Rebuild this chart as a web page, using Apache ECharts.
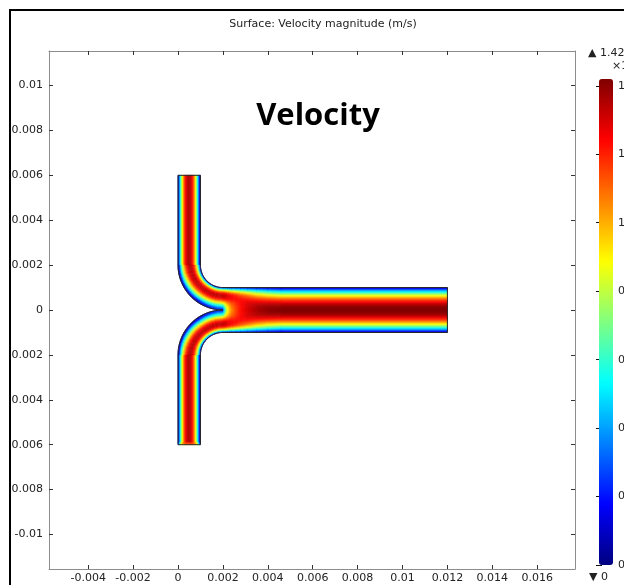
<!DOCTYPE html>
<html>
<head>
<meta charset="utf-8">
<script src="https://cdn.jsdelivr.net/npm/echarts@6/dist/echarts.min.js"></script>
<style>
  html, body { margin: 0; padding: 0; background: #fff; }
  #chart { width: 624px; height: 585px; }
</style>
</head>
<body>
<div id="chart"></div>
<script>
// ---- Axis ticks -----------------------------------------------------------
const xTicks = [-0.004, -0.002, 0, 0.002, 0.004, 0.006, 0.008, 0.01, 0.012, 0.014, 0.016];
const yTicks = [-0.01, -0.008, -0.006, -0.004, -0.002, 0, 0.002, 0.004, 0.006, 0.008, 0.01];
const colorbarTicks = [0, 0.2, 0.4, 0.6, 0.8, 1, 1.2, 1.4];
const velocityRange = [0, 1.42];   // ×10⁻³ m/s

// ---- Velocity magnitude (×10⁻³ m/s) ----------------------------------------
// Straight inlet legs, across the width from x = 0 to x = 0.001
const inletProfile = [0.121, 0.346, 0.548, 0.728, 0.885, 1.02, 1.132, 1.222, 1.29, 1.335, 1.357,
                      1.357, 1.335, 1.29, 1.222, 1.132, 1.02, 0.885, 0.728, 0.548, 0.346, 0.121];

// Entrance of the lower inlet (bottom edge upwards), flatter profiles
const inletEntryStations = [-0.006, -0.00593, -0.00585];
const inletEntryProfiles = [
  [0.36, 0.62, 0.8, 0.9, 0.96, 0.99, 1.01, 1.02, 1.02, 1.02, 1.02,
   1.02, 1.02, 1.02, 1.02, 1.01, 0.99, 0.96, 0.9, 0.8, 0.62, 0.36],
  [0.22, 0.5, 0.72, 0.88, 0.99, 1.07, 1.12, 1.15, 1.17, 1.18, 1.18,
   1.18, 1.18, 1.17, 1.15, 1.12, 1.07, 0.99, 0.88, 0.72, 0.5, 0.22]
];

// Bend, inner wall (r = 0.001) to outer wall (r = 0.002), at each angle (deg)
const bendAngles = [180, 205, 235, 270];
const bendProfiles = [
  [0.14, 0.39, 0.6, 0.79, 0.94, 1.07, 1.17, 1.25, 1.31, 1.34, 1.35,
   1.34, 1.31, 1.26, 1.19, 1.1, 0.99, 0.86, 0.71, 0.54, 0.34, 0.11],
  [0.17, 0.45, 0.69, 0.88, 1.03, 1.15, 1.24, 1.3, 1.33, 1.33, 1.31,
   1.27, 1.21, 1.13, 1.04, 0.94, 0.83, 0.71, 0.58, 0.44, 0.28, 0.09],
  [0.19, 0.5, 0.75, 0.94, 1.09, 1.2, 1.28, 1.32, 1.33, 1.31, 1.27,
   1.21, 1.13, 1.04, 0.94, 0.83, 0.71, 0.59, 0.46, 0.33, 0.2, 0.06]
];

// Merging zone behind the cusp, wall (|y| = 0.001) to centreline, at each x station
const mergeStations = [0.002, 0.00205, 0.0021, 0.00215, 0.0022, 0.0023, 0.0024,
                       0.0026, 0.0028, 0.0031, 0.0035, 0.004, 0.0046];
const mergeProfiles = [
  [0.19, 0.5, 0.75, 0.94, 1.09, 1.2, 1.28, 1.32, 1.33, 1.31, 1.28, 1.22, 1.15, 1.06, 0.96, 0.85, 0.73, 0.62, 0.52, 0.42, 0.33, 0.25],
  [0.19, 0.49, 0.74, 0.93, 1.08, 1.19, 1.27, 1.31, 1.33, 1.31, 1.28, 1.23, 1.16, 1.09, 1.0, 0.91, 0.81, 0.72, 0.64, 0.57, 0.5, 0.45],
  [0.18, 0.48, 0.72, 0.91, 1.06, 1.18, 1.26, 1.3, 1.32, 1.31, 1.28, 1.24, 1.18, 1.11, 1.04, 0.96, 0.88, 0.81, 0.75, 0.7, 0.66, 0.62],
  [0.18, 0.47, 0.7, 0.89, 1.04, 1.16, 1.24, 1.29, 1.31, 1.3, 1.28, 1.24, 1.19, 1.13, 1.07, 1.0, 0.94, 0.89, 0.85, 0.81, 0.78, 0.75],
  [0.17, 0.45, 0.68, 0.86, 1.01, 1.13, 1.22, 1.27, 1.29, 1.29, 1.27, 1.24, 1.2, 1.15, 1.1, 1.05, 1.0, 0.96, 0.93, 0.9, 0.88, 0.86],
  [0.16, 0.43, 0.65, 0.83, 0.98, 1.1, 1.19, 1.24, 1.27, 1.27, 1.26, 1.24, 1.21, 1.18, 1.14, 1.1, 1.07, 1.04, 1.02, 1.0, 0.99, 0.98],
  [0.15, 0.41, 0.62, 0.79, 0.94, 1.06, 1.15, 1.21, 1.24, 1.25, 1.25, 1.24, 1.22, 1.2, 1.17, 1.14, 1.12, 1.11, 1.09, 1.08, 1.07, 1.06],
  [0.14, 0.38, 0.58, 0.74, 0.88, 1.0, 1.09, 1.16, 1.2, 1.22, 1.23, 1.23, 1.23, 1.22, 1.21, 1.2, 1.19, 1.18, 1.17, 1.17, 1.16, 1.16],
  [0.12, 0.35, 0.53, 0.68, 0.82, 0.94, 1.03, 1.1, 1.15, 1.18, 1.2, 1.22, 1.23, 1.24, 1.24, 1.24, 1.24, 1.24, 1.23, 1.23, 1.23, 1.23],
  [0.11, 0.31, 0.47, 0.61, 0.74, 0.86, 0.95, 1.03, 1.09, 1.13, 1.17, 1.2, 1.23, 1.25, 1.27, 1.28, 1.29, 1.3, 1.3, 1.3, 1.3, 1.3],
  [0.09, 0.26, 0.41, 0.53, 0.65, 0.76, 0.85, 0.93, 1.0, 1.06, 1.11, 1.16, 1.2, 1.24, 1.27, 1.3, 1.32, 1.34, 1.35, 1.355, 1.36, 1.36],
  [0.075, 0.22, 0.35, 0.47, 0.58, 0.68, 0.77, 0.85, 0.93, 1.0, 1.065, 1.125, 1.175, 1.22, 1.265, 1.3, 1.33, 1.36, 1.38, 1.39, 1.395, 1.4]
];

// Developed outlet flow, wall (|y| = 0.001) to centreline
const outletHalfProfile = [0.064, 0.187, 0.304, 0.416, 0.521, 0.621, 0.715, 0.803, 0.885, 0.962, 1.032,
                           1.097, 1.155, 1.208, 1.255, 1.296, 1.331, 1.361, 1.384, 1.402, 1.413, 1.419];

// ---- Channel geometry (m) --------------------------------------------------
const GEO = {
  inletX0: 0, inletX1: 0.001, inletTop: 0.006,
  bendCx: 0.002, bendCy: 0.002, rInner: 0.001, rOuter: 0.002,
  outletEnd: 0.012, outletHalf: 0.001
};

// ---- Styling ---------------------------------------------------------------
const FONT = '"DejaVu Sans", Verdana, sans-serif';
const jet = ['#000080', '#0000ff', '#0080ff', '#00ffff', '#80ff80',
             '#ffff00', '#ff8000', '#ff0000', '#800000'];
const jetRgb = jet.map(h => [1, 3, 5].map(i => parseInt(h.substr(i, 2), 16)));

// Colour of a velocity on the jet scale used by the colour bar
function colorFor(v) {
  const t = Math.min(1, Math.max(0, (v - velocityRange[0]) / (velocityRange[1] - velocityRange[0])));
  const p = t * (jet.length - 1);
  const i = Math.min(jet.length - 2, Math.floor(p));
  const f = p - i;
  const c = [0, 1, 2].map(j => Math.round(jetRgb[i][j] + (jetRgb[i + 1][j] - jetRgb[i][j]) * f));
  return 'rgb(' + c.join(',') + ')';
}

// ---- Cells -----------------------------------------------------------------
// [value, valueAtFarEdge, kind, p1..p6, dir]
// kind 0: rectangle x0, x1, y0, y1 (dir 0: shaded along x, 1: along y)
// kind 1: annular sector cx, cy, r0, r1, aStart, aEnd (deg)
const cells = [];
const rect = (v, vn, x0, x1, y0, y1, dir) => cells.push([v, vn, 0, x0, x1, y0, y1, 0, 0, dir]);
const sector = (v, vn, cx, cy, r0, r1, a0, a1) => cells.push([v, vn, 1, cx, cy, r0, r1, a0, a1, 0]);

const nBand = inletProfile.length;
const dx = (GEO.inletX1 - GEO.inletX0) / nBand;
const entryTop = inletEntryStations[inletEntryStations.length - 1];

inletProfile.forEach((v, k) => {
  const x0 = GEO.inletX0 + k * dx, x1 = x0 + dx;
  rect(v, v, x0, x1, GEO.bendCy, GEO.inletTop, 1);    // upper leg
  rect(v, v, x0, x1, -GEO.bendCy, entryTop, 1);       // lower leg
});
inletEntryProfiles.forEach((row, s) => row.forEach((v, k) => {
  const x0 = GEO.inletX0 + k * dx;
  const next = s + 1 < inletEntryProfiles.length ? inletEntryProfiles[s + 1][k] : inletProfile[k];
  rect(v, next, x0, x0 + dx, inletEntryStations[s], inletEntryStations[s + 1], 1);
}));

const dr = (GEO.rOuter - GEO.rInner) / nBand;
bendProfiles.forEach((row, s) => row.forEach((v, k) => {
  const r0 = GEO.rInner + k * dr, r1 = r0 + dr;
  const a0 = bendAngles[s], a1 = bendAngles[s + 1];
  const next = s + 1 < bendProfiles.length ? bendProfiles[s + 1][k] : mergeProfiles[0][k];
  sector(v, next, GEO.bendCx, GEO.bendCy, r0, r1, a0, a1);
  sector(v, next, GEO.bendCx, -GEO.bendCy, r0, r1, 360 - a0, 360 - a1);
}));

const dy = GEO.outletHalf / nBand;
function halfChannel(row, nextRow, xa, xb) {
  row.forEach((v, k) => {
    const yTop = GEO.outletHalf - k * dy, yBot = yTop - dy;
    rect(v, nextRow[k], xa, xb, yBot, yTop, 0);
    rect(v, nextRow[k], xa, xb, -yTop, -yBot, 0);
  });
}
mergeProfiles.forEach((row, s) => halfChannel(row,
  s + 1 < mergeProfiles.length ? mergeProfiles[s + 1] : outletHalfProfile,
  mergeStations[s], mergeStations[s + 1]));
halfChannel(outletHalfProfile, outletHalfProfile,
  mergeStations[mergeStations.length - 1], GEO.outletEnd);

// ---- Rendering -------------------------------------------------------------
function renderCell(params, api) {
  const v = i => api.value(i);
  let pts = [], g0, g1;
  if (v(2) === 0) {
    const x0 = v(3), x1 = v(4), y0 = v(5), y1 = v(6);
    pts = [[x0, y0], [x1, y0], [x1, y1], [x0, y1]].map(p => api.coord(p));
    const xm = (x0 + x1) / 2, ym = (y0 + y1) / 2;
    if (v(9) === 0) { g0 = api.coord([x0, ym]); g1 = api.coord([x1, ym]); }
    else { g0 = api.coord([xm, y0]); g1 = api.coord([xm, y1]); }
  } else {
    const cx = v(3), cy = v(4), r0 = v(5), r1 = v(6);
    const a0 = v(7) * Math.PI / 180, a1 = v(8) * Math.PI / 180;
    const steps = 10;
    for (let i = 0; i <= steps; i++) {
      const a = a0 + (a1 - a0) * i / steps;
      pts.push(api.coord([cx + r1 * Math.cos(a), cy + r1 * Math.sin(a)]));
    }
    for (let i = steps; i >= 0; i--) {
      const a = a0 + (a1 - a0) * i / steps;
      pts.push(api.coord([cx + r0 * Math.cos(a), cy + r0 * Math.sin(a)]));
    }
    const rm = (r0 + r1) / 2;
    g0 = api.coord([cx + rm * Math.cos(a0), cy + rm * Math.sin(a0)]);
    g1 = api.coord([cx + rm * Math.cos(a1), cy + rm * Math.sin(a1)]);
  }
  const c0 = colorFor(v(0)), c1 = colorFor(v(1));
  const fill = (c0 === c1) ? c0 : new echarts.graphic.LinearGradient(g0[0], g0[1], g1[0], g1[1],
    [{ offset: 0, color: c0 }, { offset: 1, color: c1 }], true);
  return { type: 'polygon', shape: { points: pts }, silent: true,
           style: { fill: fill, stroke: fill, lineWidth: 0.6 } };
}

function arcPoints(cx, cy, r, a0, a1, steps) {
  const out = [];
  for (let i = 0; i <= steps; i++) {
    const a = (a0 + (a1 - a0) * i / steps) * Math.PI / 180;
    out.push([cx + r * Math.cos(a), cy + r * Math.sin(a)]);
  }
  return out;
}

function renderOutline(params, api) {
  const g = GEO;
  const path = [
    [g.inletX0, g.inletTop], [g.inletX1, g.inletTop], [g.inletX1, g.bendCy],
    ...arcPoints(g.bendCx, g.bendCy, g.rInner, 180, 270, 30),
    [g.outletEnd, g.outletHalf], [g.outletEnd, -g.outletHalf],
    ...arcPoints(g.bendCx, -g.bendCy, g.rInner, 90, 180, 30),
    [g.inletX1, -g.inletTop], [g.inletX0, -g.inletTop],
    ...arcPoints(g.bendCx, -g.bendCy, g.rOuter, 180, 90, 40),
    ...arcPoints(g.bendCx, g.bendCy, g.rOuter, 270, 180, 40),
    [g.inletX0, g.inletTop]
  ].map(p => api.coord(p));
  return { type: 'polyline', shape: { points: path }, silent: true,
           style: { stroke: '#262626', lineWidth: 1, fill: null } };
}

// ---- Axes ------------------------------------------------------------------
const xRange = [-0.005746, 0.017684];
const yRange = [-0.011537, 0.011537];
const lineStyle = { color: '#8c8c8c', width: 1 };
const tickStyle = { color: '#333' };
const labelStyle = { color: '#222', fontFamily: FONT, fontSize: 11 };

function valueAxis(extra) {
  return Object.assign({
    type: 'value', splitLine: { show: false },
    axisLine: { show: true, onZero: false, lineStyle: lineStyle }
  }, extra);
}

const chart = echarts.init(document.getElementById('chart'), null, { renderer: 'canvas' });
chart.setOption({
  animation: false,
  backgroundColor: '#fff',
  grid: [
    { left: 49, top: 51, width: 526, height: 518, outerBoundsMode: 'none', containLabel: false },
    { left: 599, top: 79, width: 14, height: 486, outerBoundsMode: 'none', containLabel: false }
  ],
  xAxis: [
    valueAxis({ gridIndex: 0, position: 'bottom', min: xRange[0], max: xRange[1],
      axisTick: { inside: true, length: 4, lineStyle: tickStyle, customValues: xTicks },
      axisLabel: Object.assign({ customValues: xTicks, margin: 4 }, labelStyle) }),
    valueAxis({ gridIndex: 0, position: 'top', min: xRange[0], max: xRange[1],
      axisTick: { inside: true, length: 4, lineStyle: tickStyle, customValues: xTicks },
      axisLabel: { show: false } }),
    { type: 'value', gridIndex: 1, show: false, min: 0, max: 1 }
  ],
  yAxis: [
    valueAxis({ gridIndex: 0, position: 'left', min: yRange[0], max: yRange[1],
      axisTick: { inside: true, length: 4, lineStyle: tickStyle, customValues: yTicks },
      axisLabel: Object.assign({ customValues: yTicks, margin: 6 }, labelStyle) }),
    valueAxis({ gridIndex: 0, position: 'right', min: yRange[0], max: yRange[1],
      axisTick: { inside: true, length: 4, lineStyle: tickStyle, customValues: yTicks },
      axisLabel: { show: false } }),
    { type: 'value', gridIndex: 1, position: 'right', min: velocityRange[0], max: velocityRange[1],
      splitLine: { show: false }, axisLine: { show: false },
      axisTick: { inside: true, length: 3, lineStyle: { color: '#111' }, customValues: colorbarTicks },
      axisLabel: Object.assign({ customValues: colorbarTicks, margin: 5 }, labelStyle) },
    { type: 'value', gridIndex: 1, position: 'left', min: velocityRange[0], max: velocityRange[1],
      splitLine: { show: false }, axisLine: { show: false },
      axisTick: { inside: true, length: 3, lineStyle: { color: '#111' }, customValues: colorbarTicks },
      axisLabel: { show: false } }
  ],
  visualMap: {
    type: 'continuous', min: velocityRange[0], max: velocityRange[1],
    dimension: 0, seriesIndex: 0, calculable: false, hoverLink: false,
    orient: 'vertical', left: 599, top: 79, itemWidth: 14, itemHeight: 486, padding: 0,
    inRange: { color: jet }, z: 1
  },
  series: [
    { type: 'custom', xAxisIndex: 0, yAxisIndex: 0, renderItem: renderCell,
      data: cells, clip: true, z: 2 },
    { type: 'custom', xAxisIndex: 0, yAxisIndex: 0, renderItem: renderOutline,
      data: [[0]], clip: true, z: 3 }
  ],
  graphic: [
    { type: 'text', x: 323, y: 24, z: 10,
      style: { text: 'Surface: Velocity magnitude (m/s)', font: '11px ' + FONT, fill: '#222',
               textAlign: 'center', textVerticalAlign: 'middle' } },
    { type: 'text', x: 318, y: 116, z: 10,
      style: { text: 'Velocity', font: 'bold 31px "Open Sans", sans-serif', fill: '#000',
               textAlign: 'center', textVerticalAlign: 'middle' } },
    { type: 'text', x: 588, y: 53, z: 10,
      style: { text: '▲ 1.42', font: '11px ' + FONT, fill: '#222', textVerticalAlign: 'middle' } },
    { type: 'text', x: 612, y: 66, z: 10,
      style: { text: '×10⁻³', font: '11px ' + FONT, fill: '#222', textVerticalAlign: 'middle' } },
    { type: 'text', x: 589, y: 577, z: 10,
      style: { text: '▼ 0', font: '11px ' + FONT, fill: '#222', textVerticalAlign: 'middle' } },
    { type: 'rect', z: 20, silent: true, shape: { x: 0, y: 0, width: 9, height: 585 },
      style: { fill: '#fff' } },
    { type: 'rect', z: 21, silent: true, shape: { x: 10, y: 10, width: 800, height: 800 },
      style: { fill: null, stroke: '#000', lineWidth: 2 } }
  ]
});
</script>
</body>
</html>
